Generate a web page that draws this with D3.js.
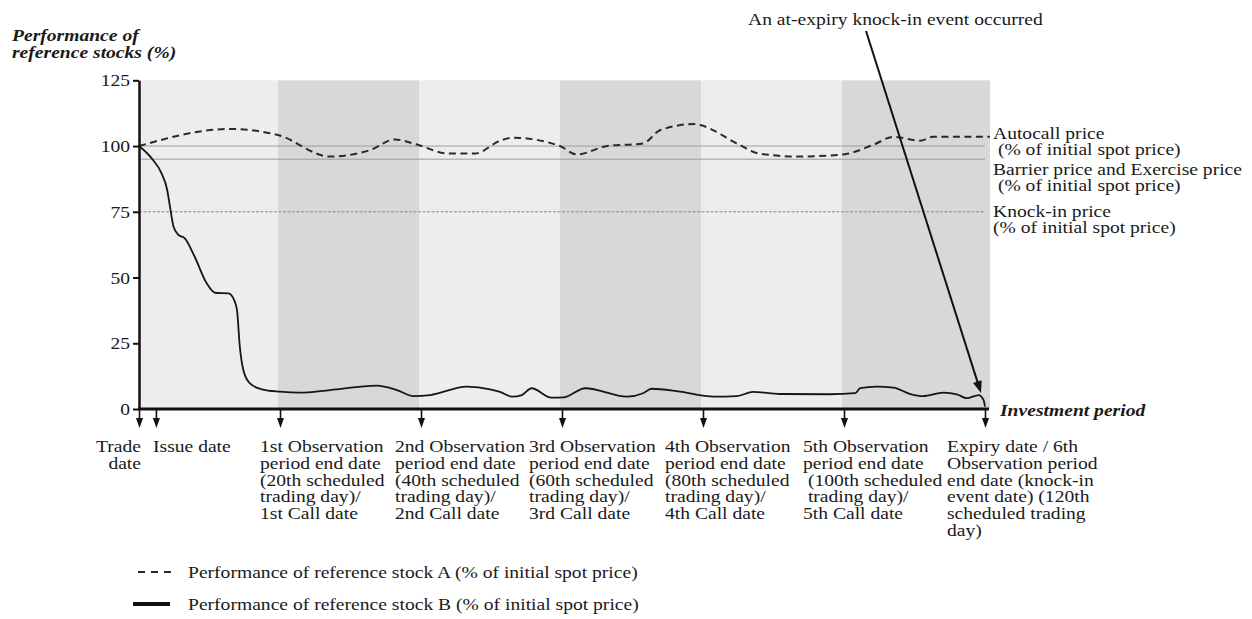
<!DOCTYPE html>
<html><head><meta charset="utf-8">
<script src="https://cdn.jsdelivr.net/npm/d3@7"></script>
<style>
html,body{margin:0;padding:0;background:#fff;}
svg text{font-family:'Liberation Serif','Times New Roman',serif;fill:#1a1a1a;white-space:pre;}
</style></head>
<body><svg id="c" width="1252" height="619"></svg>
<script>
// ---- data ----
const yTicks = [0, 25, 50, 75, 100, 125];
const bandEdges = [0, 20, 40, 60, 80, 100, 120];
const eventDays = [0, 2.4, 20, 40, 60, 80, 100, 120];
const eventLabels = [
  ["Trade", "date"],
  ["Issue date"],
  ["1st Observation", "period end date", "(20th scheduled", "trading day)/", "1st Call date"],
  ["2nd Observation", "period end date", "(40th scheduled", "trading day)/", "2nd Call date"],
  ["3rd Observation", "period end date", "(60th scheduled", "trading day)/", "3rd Call date"],
  ["4th Observation", "period end date", "(80th scheduled", "trading day)/", "4th Call date"],
  ["5th Observation", "period end date", " (100th scheduled", " trading day)/", "5th Call date"],
  ["Expiry date / 6th", "Observation period", "end date (knock-in", "event date) (120th", "scheduled trading", "day)"]
];
const refLevels = [100, 95, 75];
const refLabels = [
  ["Autocall price", " (% of initial spot price)"],
  ["Barrier price and Exercise price", " (% of initial spot price)"],
  ["Knock-in price", "(% of initial spot price)"]
];
const stockADays = [0, 12.9, 19.7, 27.1, 32.8, 36.3, 39.6, 43.7, 47.7, 51.2, 53.0, 59.7, 62.1, 66.4, 71.5, 73.9, 78.9, 79.6, 85.2, 87.7, 93.3, 99.9, 104.1, 107, 110.8, 112.6, 120.7];
const stockAValues = [100, 106.5, 104.2, 96.0, 98.5, 102.5, 100.4, 97.2, 97.2, 102, 103.2, 100, 96.8, 100, 101, 106, 108.4, 108, 100.4, 97.3, 96, 96.8, 100.4, 103.5, 102, 103.5, 103.5];
const stockBDays = [0, 1.8, 3.2, 4.0, 4.4, 4.9, 5.6, 6.5, 7.9, 9.6, 10.8, 12.7, 13.5, 13.9, 14.3, 14.8, 15.7, 17.4, 20, 22.8, 27.1, 33.7, 36.6, 38.9, 41.3, 46.5, 49.8, 51.2, 52.9, 54.3, 55.7, 58.5, 60.2, 63.3, 69.2, 71.5, 72.7, 76.7, 81.5, 84.8, 87.1, 90.9, 98, 101.6, 102.3, 104.6, 107, 109.4, 111.2, 114.1, 116, 117.4, 119.1, 119.8, 120];
const stockBValues = [100, 95.3, 89.6, 83.3, 76.9, 69.3, 66.2, 64.9, 57.9, 47.8, 44.2, 44.0, 41.4, 37.6, 23.7, 14.8, 9.8, 7.5, 6.6, 6.2, 7.2, 8.9, 7.2, 4.9, 5.3, 8.5, 7.5, 6.5, 4.7, 5.3, 7.9, 4.3, 4.4, 7.9, 4.7, 6.0, 7.7, 6.6, 4.7, 4.9, 6.5, 5.7, 5.6, 6.0, 7.9, 8.5, 8.1, 5.7, 4.9, 6.2, 5.6, 4.1, 5.3, 3.4, 0.9];
const legendLabels = ["Performance of reference stock A (% of initial spot price)", "Performance of reference stock B (% of initial spot price)"];
const yTitle = ["Performance of", "reference stocks (%)"];
const xTitle = "Investment period";
const annotation = "An at-expiry knock-in event occurred";

// ---- setup ----
const SX = 1.12, FS = 17.5, LH = 16.8;
const svg = d3.select("#c");
const x = d3.scaleLinear().domain([0, 120]).range([139, 985]);
const y = d3.scaleLinear().domain([0, 125]).range([409, 80.3]);
const X0 = x(0), XEND = x(120) + 5, Y0 = y(0);

function label(px, py, lines, o = {}) {
  const t = svg.append("text")
    .attr("transform", `translate(${px},${py}) scale(${o.sx || SX},1)`)
    .attr("text-anchor", o.anchor || "start")
    .style("font-size", (o.size || FS) + "px")
    .style("font-weight", o.weight || "normal")
    .style("font-style", o.style || "normal");
  lines.forEach((l, i) => t.append("tspan").attr("x", 0).attr("dy", i ? (o.lh || LH) : 0).text(l));
  return t;
}

// bands
const bands = d3.range(bandEdges.length - 1).map(i => ({
  x0: i === 0 ? x(bandEdges[i]) : x(bandEdges[i]) - 2,
  x1: i === bandEdges.length - 2 ? XEND : x(bandEdges[i + 1]) - 2,
  dark: i % 2 === 1
}));
svg.append("g").selectAll("rect").data(bands).join("rect")
  .attr("x", d => d.x0).attr("y", y(125)).attr("width", d => d.x1 - d.x0).attr("height", Y0 - y(125))
  .attr("fill", d => d.dark ? "#d7d8da" : "#ededed");

// reference lines
svg.append("g").selectAll("line").data(refLevels).join("line")
  .attr("x1", X0).attr("x2", x(120)).attr("y1", d => y(d)).attr("y2", d => y(d))
  .attr("stroke", (d, i) => i === 2 ? "#8a8a8a" : "#9c9c9c")
  .attr("stroke-width", 1)
  .attr("stroke-dasharray", (d, i) => i === 2 ? "3,1.5" : null);

// series
const lineGen = d3.line().x(d => x(d[0])).y(d => y(d[1])).curve(d3.curveMonotoneX);
const dataA = stockADays.map((d, i) => [d, stockAValues[i]]);
const dataB = stockBDays.map((d, i) => [d, stockBValues[i]]);
svg.append("path").datum(dataA).attr("d", lineGen).attr("fill", "none")
  .attr("stroke", "#2a2a2a").attr("stroke-width", 2).attr("stroke-dasharray", "7,4.5");
svg.append("path").datum(dataB).attr("d", lineGen).attr("fill", "none")
  .attr("stroke", "#161616").attr("stroke-width", 1.8);

// y axis
const yAxis = svg.append("g").attr("transform", `translate(${X0},0)`)
  .call(d3.axisLeft(y).tickValues(yTicks).tickSize(6).tickSizeOuter(0).tickPadding(2));
yAxis.select(".domain").attr("stroke", "#111").attr("stroke-width", 2.5);
yAxis.selectAll(".tick line").attr("stroke", "#111").attr("stroke-width", 2);
yAxis.selectAll(".tick text").style("font-size", FS + "px").style("font-family", "'Liberation Serif',serif")
  .attr("fill", "#1a1a1a").attr("transform", `scale(${SX},1)`);

// x axis with arrows
const xAxis = svg.append("g").attr("transform", `translate(0,${Y0})`)
  .call(d3.axisBottom(x).tickValues(eventDays).tickSize(11).tickFormat(""));
xAxis.select(".domain").remove();
xAxis.selectAll(".tick line").attr("stroke", "#111").attr("stroke-width", 1.6);
xAxis.selectAll(".tick").append("path").attr("d", "M-3.5,9L3.5,9L0,19Z").attr("fill", "#111");
svg.append("line").attr("x1", X0 - 1).attr("x2", XEND - 1).attr("y1", Y0).attr("y2", Y0)
  .attr("stroke", "#111").attr("stroke-width", 3);

// event labels
const labelPos = [[141, "end"], [153, "start"], [260, "start"], [395, "start"], [529, "start"], [665, "start"], [803, "start"], [947, "start"]];
eventLabels.forEach((l, i) => label(labelPos[i][0], 452, l, { anchor: labelPos[i][1] }));

// ref labels
const refLabelY = [139, 175, 217];
refLabels.forEach((l, i) => label(993, refLabelY[i], l, { lh: 16 }));

// titles
label(12, 41, yTitle, { weight: "bold", style: "italic", lh: 17 });
label(1000, 416, [xTitle], { weight: "bold", style: "italic" });

// annotation
label(748, 25, [annotation]);
const ax1 = 866, ay1 = 31, ax2 = 981, ay2 = 393;
const ang = Math.atan2(ay2 - ay1, ax2 - ax1);
svg.append("line").attr("x1", ax1).attr("y1", ay1)
  .attr("x2", ax2 - 9 * Math.cos(ang)).attr("y2", ay2 - 9 * Math.sin(ang))
  .attr("stroke", "#111").attr("stroke-width", 2);
svg.append("path").attr("d", "M0,0L-12,-4.5L-12,4.5Z").attr("fill", "#111")
  .attr("transform", `translate(${ax2},${ay2}) rotate(${ang * 180 / Math.PI})`);

// legend
svg.append("line").attr("x1", 138).attr("x2", 176).attr("y1", 572).attr("y2", 572)
  .attr("stroke", "#2a2a2a").attr("stroke-width", 2).attr("stroke-dasharray", "7,6");
svg.append("line").attr("x1", 133).attr("x2", 170).attr("y1", 604).attr("y2", 604)
  .attr("stroke", "#111").attr("stroke-width", 4);
label(188, 578, [legendLabels[0]]);
label(188, 610, [legendLabels[1]]);
</script></body></html>
